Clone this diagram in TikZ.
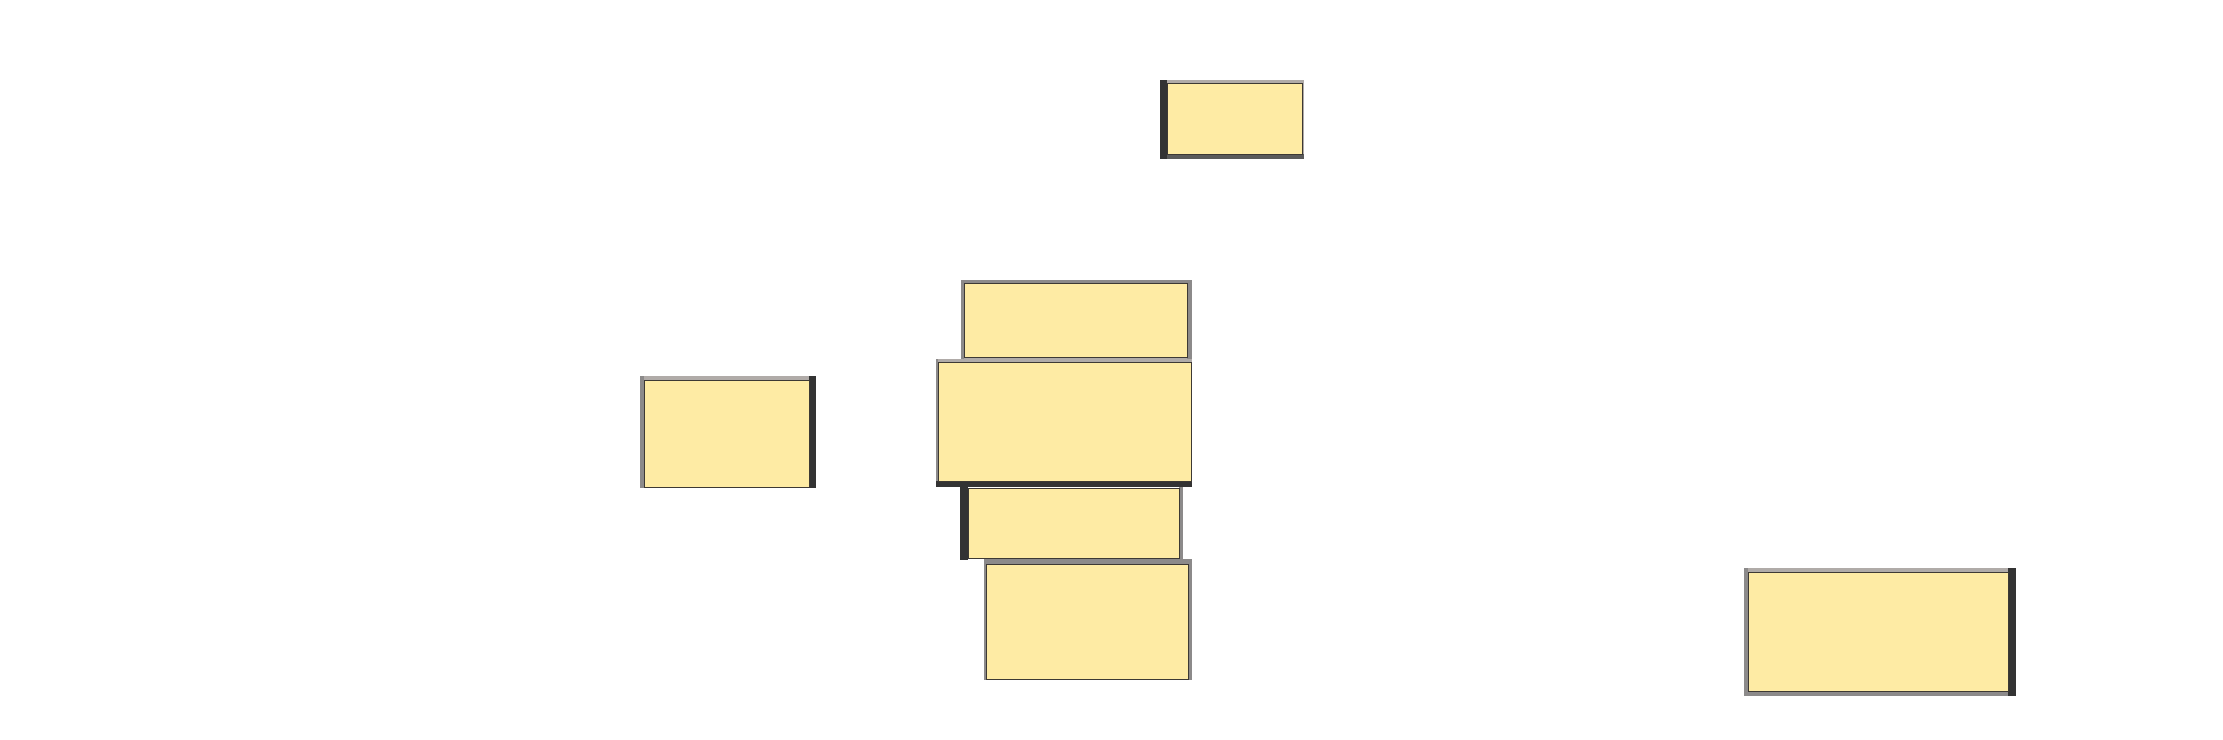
\documentclass[tikz,border=0pt]{standalone}
\begin{document}
\begin{tikzpicture}[x=1pt,y=-1pt,
  box/.style={draw=black!80!yellow!60!black, line width=1pt, fill=boxfill, inner sep=0pt, outer sep=0pt, anchor=north west},
  edl/.style={fill=edgelight},
  edm/.style={fill=edgemid},
  edd/.style={fill=edgedark},
  edb/.style={fill=edgebot}]
\definecolor{boxfill}{HTML}{FEEBA4}
\definecolor{edgelight}{HTML}{B0ABA8}
\definecolor{edgemid}{HTML}{8C8A8A}
\definecolor{edgedark}{HTML}{333333}
\definecolor{edgebot}{HTML}{5A5A5A}
\useasboundingbox[fill=white] (0,0) rectangle (2223,739);
% box 1 (top)
\fill[edl] (1160,80) rectangle (1304,83);
\fill[edl] (1302,80) rectangle (1304,159);
\fill[edb] (1160,154) rectangle (1304,159);
\fill[edd] (1160,80) rectangle (1167,159);
\node[box, minimum width=135pt, minimum height=71pt] (b1) at (1167,83) {};
% box L
\fill[edl] (640,376) rectangle (816,380);
\fill[edm] (640,376) rectangle (644,488);
\fill[edd] (809,376) rectangle (816,488);
\node[box, minimum width=165pt, minimum height=107pt] (bl) at (644,380) {};
% box A
\fill[edm] (961,280) rectangle (1192,283);
\fill[edl] (961,357) rectangle (1192,360);
\fill[edm] (961,280) rectangle (964,359);
\fill[edm] (1187,280) rectangle (1192,359);
\node[box, minimum width=223pt, minimum height=74pt] (ba) at (964,283) {};
% box B
\fill[edl] (936,359) rectangle (1192,362);
\fill[edm] (936,359) rectangle (938,487);
\fill[edd] (936,481) rectangle (1192,487);
\node[box, minimum width=253pt, minimum height=119pt] (bb) at (938,362) {};
% box C
\fill[edd] (960,487) rectangle (968,560);
\fill[edm] (1179,487) rectangle (1183,560);
\node[box, minimum width=211pt, minimum height=70pt] (bc) at (968,488) {};
% box D
\fill[edm] (984,559) rectangle (1192,564);
\fill[edm] (1188,559) rectangle (1192,680);
\fill[edm] (984,559) rectangle (986,680);
\node[box, minimum width=202pt, minimum height=115pt] (bd) at (986,564) {};
% box R
\fill[edl] (1744,568) rectangle (2016,572);
\fill[edm] (1744,568) rectangle (1748,696);
\fill[edm] (1744,691) rectangle (2016,696);
\fill[edd] (2008,568) rectangle (2016,696);
\node[box, minimum width=260pt, minimum height=119pt] (br) at (1748,572) {};
\end{tikzpicture}
\end{document}
